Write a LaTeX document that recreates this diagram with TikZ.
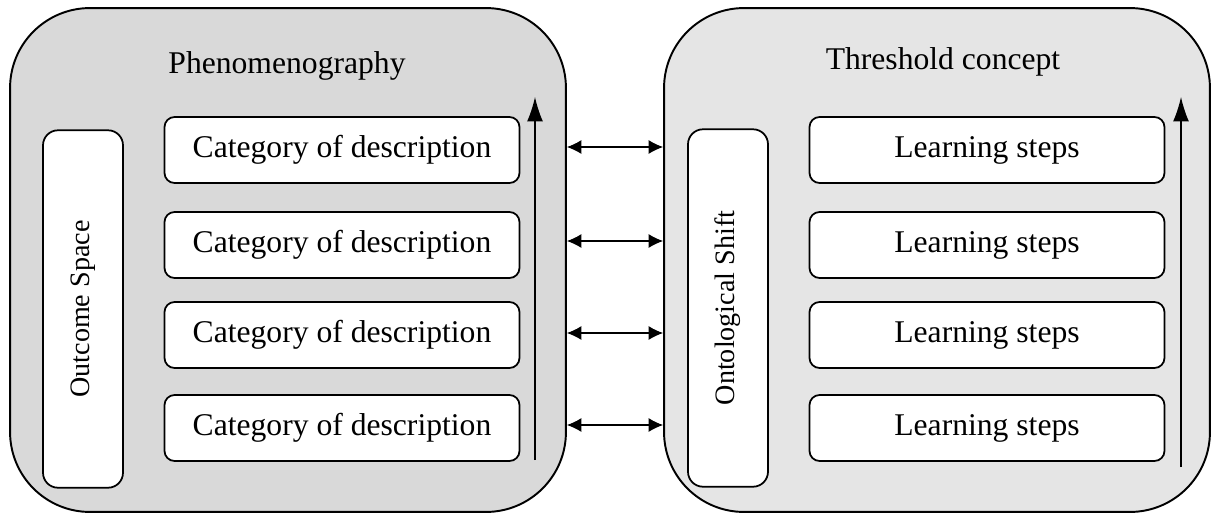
\documentclass[tikz,border=0pt]{standalone}
\usepackage{fontspec}
\setmainfont{Liberation Serif}
\usepackage{tikz}
\usetikzlibrary{arrows.meta}

\begin{document}
\begin{tikzpicture}[x=0.02cm,y=-0.02cm]
\tikzstyle{every node}=[font=\fontsize{18}{21}\selectfont];
\tikzstyle{bigbox}=[draw,line width=1.1pt,rounded corners=1.6cm];
\tikzstyle{catbox}=[draw,fill=white,line width=1pt,rounded corners=0.2cm,minimum width=7.1cm,minimum height=1.32cm];
\tikzstyle{sidebox}=[draw,fill=white,line width=1pt,rounded corners=0.3cm,minimum width=7.15cm,minimum height=1.6cm,rotate=90,font=\fontsize{16}{19}\selectfont];
\tikzstyle{link}=[line width=0.6pt,{Latex[length=2.9mm,width=2.8mm]}-{Latex[length=2.9mm,width=2.8mm]}];
\tikzstyle{rise}=[line width=0.7pt,-{Latex[length=4.9mm,width=3.2mm]}];
\useasboundingbox (0,0) rectangle (1215,521);
% the two big panels
\path (288,260) node[bigbox,fill=gray!30,minimum width=11.12cm,minimum height=10.08cm] (phen) {};
\path (937,260) node[bigbox,fill=gray!20,minimum width=10.92cm,minimum height=10.08cm] (thres) {};
\path (287,66) node (phentitle) {Phenomenography};
\path (943,62) node (threstitle) {Threshold concept};
% left side
\path (83,309) node[sidebox] (outcome) {Outcome Space};
\path (342,150) node[catbox] (cat1) {Category of description};
\path (342,245) node[catbox] (cat2) {Category of description};
\path (342,335) node[catbox] (cat3) {Category of description};
\path (342,428) node[catbox] (cat4) {Category of description};
\coordinate (lbot) at (535,460);
\coordinate (ltop) at (535,97);
% right side
\path (728,308) node[sidebox] (shift) {Ontological Shift};
\path (987,150) node[catbox] (step1) {Learning steps};
\path (987,245) node[catbox] (step2) {Learning steps};
\path (987,335) node[catbox] (step3) {Learning steps};
\path (987,428) node[catbox] (step4) {Learning steps};
\coordinate (rbot) at (1181,467);
\coordinate (rtop) at (1181,97);
\draw[rise] (lbot) -- (ltop);
\draw[rise] (rbot) -- (rtop);
% links between the panels
\draw[link] ([yshift=0.06cm]phen.east |- cat1) -- ([yshift=0.06cm]thres.west |- cat1);
\draw[link] ([yshift=0.08cm]phen.east |- cat2) -- ([yshift=0.08cm]thres.west |- cat2);
\draw[link] ([yshift=0.04cm]phen.east |- cat3) -- ([yshift=0.04cm]thres.west |- cat3);
\draw[link] ([yshift=0.06cm]phen.east |- cat4) -- ([yshift=0.06cm]thres.west |- cat4);
\end{tikzpicture}
\end{document}
